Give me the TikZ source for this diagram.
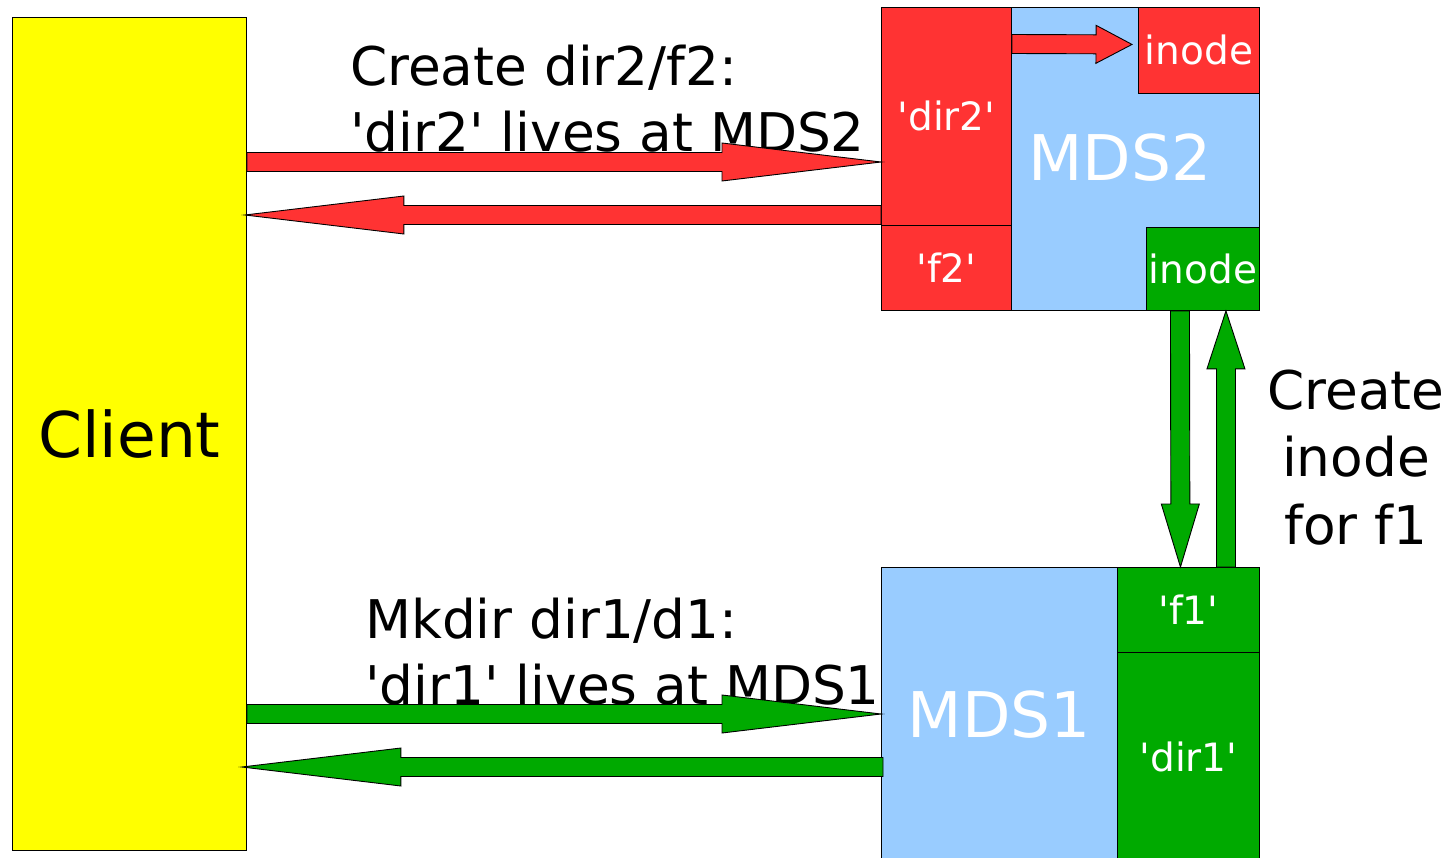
\documentclass[tikz,border=0pt]{standalone}
\usepackage{fontspec}
\newfontfamily\djv{DejaVu Sans}
\usetikzlibrary{calc}
\definecolor{clientyellow}{HTML}{FFFF00}
\definecolor{msgred}{HTML}{FF3333}
\definecolor{mdsblue}{HTML}{99CCFF}
\definecolor{msggreen}{HTML}{00AA00}

% Block arrow: #1 style, #2 start, #3 tip, #4 head length
\newcommand\blockarrow[4]{%
  \path (#2) coordinate (ba-s) (#3) coordinate (ba-e);
  \path ($(ba-e)!#4!(ba-s)$) coordinate (ba-h);
  \filldraw[arrowbody,#1]
    ($(ba-s)!9.5pt!90:(ba-e)$) -- ($(ba-h)!9.5pt!90:(ba-e)$) --
    ($(ba-h)!19pt!90:(ba-e)$) -- (ba-e) --
    ($(ba-h)!19pt!-90:(ba-e)$) -- ($(ba-h)!9.5pt!-90:(ba-e)$) --
    ($(ba-s)!9.5pt!-90:(ba-e)$) -- cycle;
}

\begin{document}
\begin{tikzpicture}[x=1pt,y=-1pt,
  box/.style={draw=black, line width=0.9pt, inner sep=0pt, anchor=north west},
  part/.style={box, text=white, font=\djv\fontsize{39}{47}\selectfont},
  big/.style={font=\djv\fontsize{63}{75}\selectfont},
  msg/.style={font=\djv\fontsize{53.3}{66}\selectfont, inner sep=0pt},
  arrowbody/.style={draw=black, line width=0.9pt, line join=miter}]

\clip (0,0) rectangle (1453,858);
\fill[white] (0,0) rectangle (1453,858);

% client
\node[box, big, fill=clientyellow, minimum width=234pt, minimum height=833pt] (client) at (12,17) {Client};

% MDS2 and its entries
\node[box, fill=mdsblue, minimum width=378pt, minimum height=303pt] (mds2) at (881,7) {};
\node[big, text=white, inner sep=0pt] (mds2label) at (1120,158) {MDS2};
\node[part, fill=msgred, minimum width=130pt, minimum height=218pt] (dir2) at (881,7) {'dir2'};
\node[part, fill=msgred, minimum width=130pt, minimum height=85pt] (f2) at (881,225) {'f2'};
\node[part, fill=msgred, minimum width=121pt, minimum height=86pt] (inodeA) at (1138,7) {inode};
\node[part, fill=msggreen, minimum width=113pt, minimum height=83pt] (inodeB) at (1146,227) {inode};

% MDS1 and its entries
\node[box, big, text=white, fill=mdsblue, minimum width=236pt, minimum height=295pt] (mds1) at (881,567) {MDS1};
\node[part, fill=msggreen, minimum width=142pt, minimum height=85pt] (f1) at (1117,567) {'f1'};
\node[part, fill=msggreen, minimum width=142pt, minimum height=210pt] (dir1) at (1117,652) {'dir1'};

% message texts (base anchor = baseline of the last line)
\node[msg, anchor=base west, align=left] (req2) at (350,152) {Create dir2/f2:\\'dir2' lives at MDS2};
\node[msg, anchor=base west, align=left] (req1) at (365,704) {Mkdir dir1/d1:\\'dir1' lives at MDS1};
\node[msg, anchor=base, align=center, font=\djv\fontsize{53.3}{67.5}\selectfont] (note) at (1356,544) {Create\\inode\\for f1};

% arrows
\blockarrow{fill=msgred}{[yshift=-145pt]client.north east}{[yshift=-155pt]dir2.north west}{159pt}
\blockarrow{fill=msgred}{[yshift=-208pt]dir2.north west}{[xshift=-2pt,yshift=-198pt]client.north east}{159pt}
\blockarrow{fill=msggreen}{[yshift=-697pt]client.north east}{[yshift=-147pt]mds1.north west}{159pt}
\blockarrow{fill=msggreen}{[xshift=2pt,yshift=-200pt]mds1.north west}{[xshift=-5pt,yshift=-750pt]client.north east}{159pt}
\blockarrow{fill=msgred}{[yshift=-37pt]dir2.north east}{[xshift=-6pt,yshift=6pt]inodeA.west}{36pt}
\blockarrow{fill=msggreen}{[xshift=-23pt]inodeB.south}{[xshift=-8pt]f1.north}{63pt}
\blockarrow{fill=msggreen}{[xshift=37.5pt]f1.north}{[xshift=23pt]inodeB.south}{58pt}
\end{tikzpicture}
\end{document}
